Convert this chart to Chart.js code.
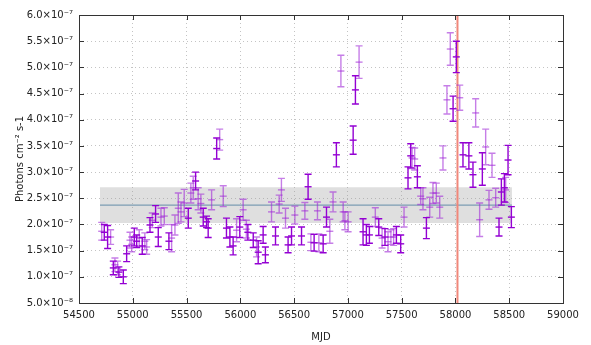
<!DOCTYPE html>
<html><head><meta charset="utf-8">
<script src="https://cdn.jsdelivr.net/npm/chart.js@4.4.0/dist/chart.umd.min.js"></script>
<style>html,body{margin:0;padding:0;background:#fff}#wrap{width:591px;height:345px;position:relative}</style>
</head><body><div id="wrap"><canvas id="c"></canvas></div>
<script>
// Flux values in units of 1e-7 photons cm^-2 s^-1
const darkMJD  = [54735,54766,54819,54871,54912,54943,55014,55036,55088,55160,55212,55237,55336,55516,55584,55655,55686,55701,55780,55871,55903,55933,55995,56070,56120,56166,56212,56233,56327,56444,56476,56569,56630,56686,56770,56801,56893,57049,57070,57141,57172,57200,57287,57345,57451,57491,57559,57584,57646,57730,57978,58008,58070,58125,58163,58250,58405,58427,58455,58489,58520];
const darkFlux = [1.85,1.76,1.17,1.09,1.00,1.44,1.76,1.68,1.59,1.99,2.20,1.76,1.68,2.12,2.83,2.14,2.05,1.93,3.45,1.93,1.76,1.59,1.95,1.85,1.70,1.47,1.80,1.42,1.78,1.61,1.78,1.78,2.72,1.65,1.63,2.14,3.33,3.61,4.57,1.86,1.80,1.80,1.95,1.76,1.80,1.63,2.89,3.31,2.91,1.93,4.21,5.20,3.33,3.31,2.95,3.06,1.95,2.62,2.70,3.23,2.14];
const darkErr  = [0.15,0.22,0.13,0.10,0.13,0.15,0.17,0.12,0.16,0.14,0.16,0.18,0.16,0.19,0.17,0.17,0.11,0.18,0.20,0.19,0.19,0.17,0.20,0.15,0.14,0.22,0.16,0.15,0.17,0.15,0.17,0.17,0.24,0.16,0.17,0.19,0.23,0.27,0.27,0.25,0.20,0.16,0.16,0.16,0.16,0.17,0.21,0.23,0.21,0.20,0.24,0.30,0.23,0.25,0.24,0.31,0.17,0.25,0.27,0.28,0.20];

const lightMJD  = [54711,54794,54834,54859,54974,54990,55060,55112,55129,55181,55262,55293,55361,55392,55423,55448,55478,55540,55562,55608,55633,55733,55808,55841,55965,56026,56056,56151,56290,56361,56382,56420,56507,56600,56656,56717,56730,56832,56862,56935,56956,56972,57002,57104,57255,57318,57373,57400,57425,57522,57597,57621,57677,57698,57761,57791,57822,57854,57884,57921,57952,58040,58188,58225,58281,58312,58340,58374,58467];
const lightFlux = [1.87,1.76,1.23,1.17,1.70,1.62,1.74,1.68,1.57,2.08,2.14,2.16,1.74,1.99,2.31,2.24,2.41,2.60,2.70,2.49,2.40,2.47,3.62,2.54,1.89,2.28,1.91,1.57,2.24,2.39,2.66,2.12,2.18,2.26,1.66,2.26,1.65,1.87,2.43,4.93,2.24,2.07,2.05,5.10,2.14,1.74,1.67,1.76,1.76,2.14,3.27,3.25,2.54,2.49,2.33,2.60,2.60,2.33,3.27,4.38,5.35,4.42,4.13,2.09,3.48,2.47,3.13,2.51,2.66];
const lightErr  = [0.17,0.14,0.13,0.13,0.15,0.14,0.16,0.16,0.14,0.14,0.17,0.16,0.26,0.19,0.29,0.19,0.26,0.19,0.22,0.21,0.18,0.19,0.20,0.20,0.22,0.20,0.17,0.19,0.19,0.17,0.22,0.19,0.17,0.16,0.16,0.17,0.17,0.23,0.19,0.30,0.19,0.17,0.19,0.31,0.18,0.19,0.19,0.14,0.16,0.19,0.20,0.21,0.16,0.21,0.19,0.20,0.19,0.21,0.23,0.27,0.31,0.24,0.27,0.32,0.34,0.18,0.23,0.18,0.24];

const bandRange = [54695, 58525];
const bandLow = 2.03, bandHigh = 2.71, bandMean = 2.37;
const eventMJD = 58018.87;
const xRange = [54500, 59000], xStep = 500;
const yRange = [0.5, 6.0], yStep = 0.5;

const pts = (xs, ys) => xs.map((x, i) => ({x, y: ys[i]}));
const DARK = '#9400d3', LIGHT = 'rgba(160,40,215,0.6)';
const FONT = {family: 'DejaVu Sans', size: 10};

const errorBars = {
  id: 'errorBars',
  afterDatasetDraw(chart, args) {
    const ds = chart.data.datasets[args.index];
    if (!ds.errors) return;
    const ctx = chart.ctx, ys = chart.scales.y;
    ctx.save();
    ctx.strokeStyle = ds.borderColor;
    ctx.lineWidth = 1.4;
    args.meta.data.forEach((p, i) => {
      const v = ds.data[i].y, e = ds.errors[i];
      const yt = ys.getPixelForValue(v + e), yb = ys.getPixelForValue(v - e);
      const x = p.x, w = 3.5;
      ctx.beginPath();
      ctx.moveTo(x, yt); ctx.lineTo(x, yb);
      ctx.moveTo(x - w, yt); ctx.lineTo(x + w, yt);
      ctx.moveTo(x - w, yb); ctx.lineTo(x + w, yb);
      ctx.stroke();
    });
    ctx.restore();
  }
};

const frame = {
  id: 'frame',
  afterDraw(chart) {
    const {ctx, chartArea: a, scales} = chart;
    ctx.save();
    ctx.strokeStyle = '#333';
    ctx.lineWidth = 1;
    ctx.strokeRect(Math.round(a.left) + 0.5, Math.round(a.top) + 0.5, Math.round(a.right - a.left), Math.round(a.bottom - a.top));
    const L = 5;
    ctx.beginPath();
    scales.x.ticks.forEach(t => {
      const x = Math.round(scales.x.getPixelForValue(t.value)) + 0.5;
      ctx.moveTo(x, a.bottom); ctx.lineTo(x, a.bottom - L);
      ctx.moveTo(x, a.top); ctx.lineTo(x, a.top + L);
    });
    scales.y.ticks.forEach(t => {
      const y = Math.round(scales.y.getPixelForValue(t.value)) + 0.5;
      ctx.moveTo(a.left, y); ctx.lineTo(a.left + L, y);
      ctx.moveTo(a.right, y); ctx.lineTo(a.right - L, y);
    });
    ctx.stroke();
    ctx.restore();
  }
};

function yLabel(v) {
  if (v < 0.99) return (v * 10).toFixed(1) + '×10⁻⁸';
  return v.toFixed(1) + '×10⁻⁷';
}

new Chart(document.getElementById('c'), {
  type: 'scatter',
  data: {
    datasets: [
      {label: 'bandHigh', type: 'line', data: [{x: bandRange[0], y: bandHigh}, {x: bandRange[1], y: bandHigh}], borderWidth: 0, pointRadius: 0, fill: '+1', backgroundColor: 'rgba(150,150,150,0.3)', order: 10},
      {label: 'bandLow', type: 'line', data: [{x: bandRange[0], y: bandLow}, {x: bandRange[1], y: bandLow}], borderWidth: 0, pointRadius: 0, fill: false, order: 10},
      {label: 'mean', type: 'line', data: [{x: bandRange[0], y: bandMean}, {x: bandRange[1], y: bandMean}], borderColor: '#7c9db3', borderWidth: 1.2, pointRadius: 0, fill: false, order: 9},
      {label: 'event', type: 'line', data: [{x: eventMJD, y: yRange[0]}, {x: eventMJD, y: yRange[1]}], borderColor: '#f0877a', borderWidth: 2, pointRadius: 0, fill: false, order: 8},
      {label: 'light', data: pts(lightMJD, lightFlux), errors: lightErr, borderColor: LIGHT, backgroundColor: LIGHT, pointStyle: 'line', pointRadius: 3.5, pointBorderWidth: 1.4, order: 2},
      {label: 'dark', data: pts(darkMJD, darkFlux), errors: darkErr, borderColor: DARK, backgroundColor: DARK, pointStyle: 'line', pointRadius: 3.5, pointBorderWidth: 1.4, order: 1}
    ]
  },
  options: {
    responsive: true,
    maintainAspectRatio: false,
    animation: false,
    layout: {padding: {top: 15, right: 28, left: 0, bottom: 0}},
    plugins: {legend: {display: false}, tooltip: {enabled: false}},
    scales: {
      x: {
        type: 'linear', min: xRange[0], max: xRange[1],
        afterFit: s => { s.height = 42; },
        ticks: {stepSize: xStep, color: '#222', font: FONT, padding: 6, maxRotation: 0, callback: v => String(v)},
        grid: {color: '#c4c4c4', drawTicks: false, lineWidth: 1},
        border: {display: false, dash: [1, 3]},
        title: {display: true, text: 'MJD', color: '#222', font: FONT, padding: {top: 0, bottom: 2}}
      },
      y: {
        min: yRange[0], max: yRange[1],
        afterFit: s => { s.width = 79; },
        ticks: {stepSize: yStep, color: '#222', font: FONT, padding: 6, callback: yLabel},
        grid: {color: '#c4c4c4', drawTicks: false, lineWidth: 1},
        border: {display: false, dash: [1, 3]},
        title: {display: true, text: 'Photons cm⁻² s-1', color: '#222', font: FONT, padding: {top: 14, bottom: 0}}
      }
    }
  },
  plugins: [errorBars, frame]
});
</script>
</body></html>
